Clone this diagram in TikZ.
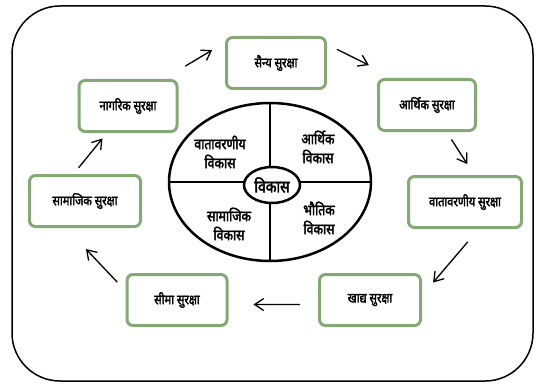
\documentclass[tikz,border=0pt]{standalone}
\usepackage{fontspec}
\usepackage{tikz}
\usetikzlibrary{arrows.meta}
\usetikzlibrary{shapes.geometric}
\newfontfamily\devfont[Script=Devanagari, FakeStretch=0.82, FakeBold=2.5]{Noto Sans}
\definecolor{boxgreen}{RGB}{134,168,117}

\begin{document}
\begin{tikzpicture}[x=1pt, y=-1pt,
        box_style/.style={rectangle, rounded corners=6pt, draw=boxgreen, line width=3pt,
            minimum height=51pt, font=\devfont\fontsize{13.5}{16}\selectfont},
        quad_style/.style={align=center, font=\devfont\fontsize{15}{19}\selectfont},
        arrow_style/.style={draw=black, line width=1.3pt, -{Straight Barb[length=9pt,width=12pt]}}]

        \useasboundingbox (0,0) rectangle (545,385);
        \draw [line width=1.5pt, rounded corners=48pt] (12,6) rectangle (533,381);

        % outer ring of security boxes
        \node [box_style, minimum width=99pt] (sainya) at (276,63) {सैन्य सुरक्षा};
        \node [box_style, minimum width=97pt] (arthik) at (427,105) {आर्थिक सुरक्षा};
        \node [box_style, minimum width=113pt] (vatavaran) at (465,202) {वातावरणीय सुरक्षा};
        \node [box_style, minimum width=101pt] (khadya) at (370,300) {खाद्य सुरक्षा};
        \node [box_style, minimum width=100pt] (sima) at (177,300) {सीमा सुरक्षा};
        \node [box_style, minimum width=111pt] (samajik) at (85,201) {सामाजिक सुरक्षा};
        \node [box_style, minimum width=98pt] (nagarik) at (128,106) {नागरिक सुरक्षा};

        % development ellipse
        \node [ellipse, draw, line width=2.5pt, outer sep=0pt, minimum width=202pt, minimum height=158pt] (vikas_ring) at (270,182) {};
        \draw [line width=2.5pt] (vikas_ring.north) -- (vikas_ring.south);
        \draw [line width=2.5pt] (vikas_ring.west) -- (vikas_ring.east);
        \node [ellipse, draw, fill=white, line width=2.5pt, inner sep=0pt, minimum width=56pt, minimum height=36pt,
            font=\devfont\fontsize{17}{19}\selectfont] (vikas) at (272,185) {विकास};
        \node [quad_style] (vikas_vat) at (220,152) {वातावरणीय\\विकास};
        \node [quad_style] (vikas_arth) at (318,147) {आर्थिक\\विकास};
        \node [quad_style] (vikas_sam) at (229,224) {सामाजिक\\विकास};
        \node [quad_style] (vikas_bhau) at (319,218) {भौतिक\\विकास};

        \draw [arrow_style, shorten <=25pt, shorten >=15pt] (nagarik.37) -- (sainya.158);
        \draw [arrow_style, shorten <=11pt, shorten >=29pt] (sainya.20) -- (arthik.140);
        \draw [arrow_style, shorten <=9pt, shorten >=13pt] (arthik.-54) -- (vatavaran.71);
        \draw [arrow_style, shorten <=17pt, shorten >=17pt] (vatavaran.-63) -- (khadya.5);
        \draw [arrow_style, shorten <=18pt, shorten >=25pt] (khadya.185) -- (sima.-5);
        \draw [arrow_style, shorten <=12pt, shorten >=29pt] (sima.170) -- (samajik.-125);
        \draw [arrow_style, shorten <=8pt, shorten >=7pt] (samajik.113) -- (nagarik.-128);
\end{tikzpicture}
\end{document}
